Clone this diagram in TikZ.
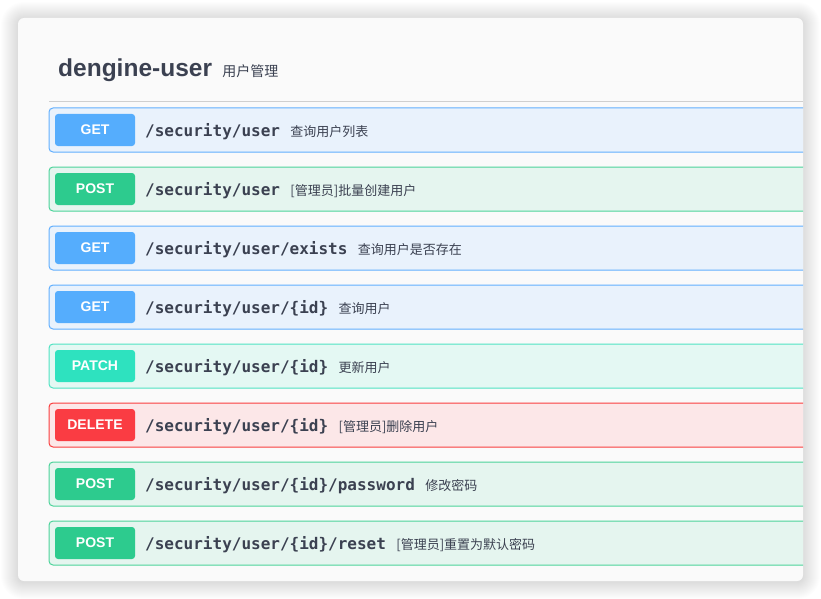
\documentclass[tikz,border=0pt]{standalone}
\usepackage{fontspec}
\setmainfont{Liberation Sans}
\newfontfamily\monofont{DejaVu Sans Mono}
\newfontfamily\cjkfont{Noto Sans CJK SC}
\definecolor{ink}{HTML}{3B4151}
\definecolor{cardbg}{HTML}{FAFAFA}
\definecolor{sepline}{HTML}{CFCFCF}
\definecolor{getborder}{HTML}{61AFFE}
\definecolor{getfill}{HTML}{E9F2FC}
\definecolor{getbadge}{HTML}{55ADFD}
\definecolor{postborder}{HTML}{4CD39A}
\definecolor{postfill}{HTML}{E5F5EF}
\definecolor{postbadge}{HTML}{2DCB8E}
\definecolor{patchborder}{HTML}{50E3C2}
\definecolor{patchfill}{HTML}{E4F8F3}
\definecolor{patchbadge}{HTML}{2EE2BF}
\definecolor{deleteborder}{HTML}{F93E3E}
\definecolor{deletefill}{HTML}{FCE7E8}
\definecolor{deletebadge}{HTML}{FA3C43}
\tikzset{
  badge/.style={minimum width=80pt, minimum height=32pt, inner sep=0pt,
    rounded corners=3pt, text=white, font=\bfseries\fontsize{14}{14}\selectfont},
  pathtxt/.style={anchor=base west, inner sep=0pt, text=ink,
    font=\monofont\bfseries\fontsize{16}{16}\selectfont},
  desctxt/.style={anchor=base west, inner sep=0pt, text=ink,
    font=\cjkfont\fontsize{13}{13}\selectfont},
  rowbox/.style={line width=1pt, rounded corners=4pt}
}
% #1 name, #2 top y, #3 method key, #4 label, #5 path, #6 description
\newcommand\oprow[6]{%
  \draw[rowbox, draw=#3border, fill=#3fill] (49,#2) rectangle (812,#2+44);
  \node[badge, fill=#3badge] (#1m) at (95,#2+22) {#4};
  \node[pathtxt] (#1p) at (145,#2+28) {#5};
  \node[desctxt] (#1d) at ([xshift=10pt]#1p.base east) {#6};
}
\begin{document}
\begin{tikzpicture}[x=1pt,y=-1pt]
\useasboundingbox (0,0) rectangle (821,599);
\fill[white] (0,0) rectangle (821,599);
% soft shadow
\foreach \i in {1,...,17}{
  \fill[black, opacity=0.008, rounded corners=6pt+\i pt]
    (18-\i,18-\i+1) rectangle (803+\i,581+\i+1);
}
\fill[cardbg, rounded corners=6pt] (18,18) rectangle (803,581);
\node[anchor=base west, inner sep=0pt, text=ink, font=\bfseries\fontsize{24.5}{24.5}\selectfont]
  (title) at (58,77) {dengine-user};
\node[anchor=base west, inner sep=0pt, text=ink, font=\cjkfont\fontsize{14}{14}\selectfont]
  (subtitle) at ([xshift=10pt]title.base east) {用户管理};
\draw[sepline, line width=1pt] (49,102) -- (803,102);
\begin{scope}
\clip[rounded corners=6pt] (18,18) rectangle (803,581);
\oprow{r1}{108}{get}{GET}{/security/user}{查询用户列表}
\oprow{r2}{167}{post}{POST}{/security/user}{[管理员]批量创建用户}
\oprow{r3}{226}{get}{GET}{/security/user/exists}{查询用户是否存在}
\oprow{r4}{285}{get}{GET}{/security/user/\{id\}}{查询用户}
\oprow{r5}{344}{patch}{PATCH}{/security/user/\{id\}}{更新用户}
\oprow{r6}{403}{delete}{DELETE}{/security/user/\{id\}}{[管理员]删除用户}
\oprow{r7}{462}{post}{POST}{/security/user/\{id\}/password}{修改密码}
\oprow{r8}{521}{post}{POST}{/security/user/\{id\}/reset}{[管理员]重置为默认密码}
\end{scope}
\end{tikzpicture}
\end{document}
